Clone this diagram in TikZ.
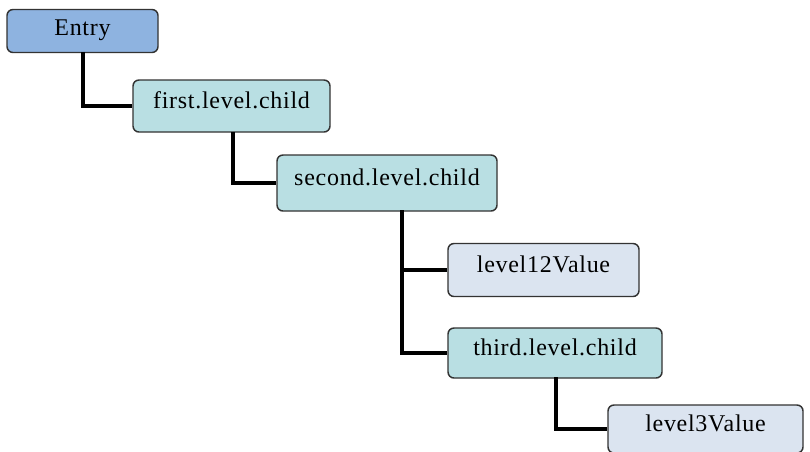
\documentclass[tikz,border=0pt]{standalone}
\usepackage{fontspec}
\setmainfont{Liberation Serif}[LetterSpace=3]
\begin{document}
\begin{tikzpicture}[x=0.75pt,y=-0.75pt,
  box/.style={draw=black!80,line width=1.1pt,rounded corners=4.5pt,inner sep=0pt,
    font=\fontsize{18}{20}\selectfont,text height=12pt,text depth=9pt},
  entrybox/.style={box,fill=entryblue,text depth=5pt},
  childbox/.style={box,fill=childteal},
  valuebox/.style={box,fill=valueblue},
  conn/.style={line width=3pt,black}]
\definecolor{entryblue}{HTML}{8EB3E0}
\definecolor{childteal}{HTML}{B9DFE3}
\definecolor{valueblue}{HTML}{DBE4F0}
\useasboundingbox (0,0) rectangle (810,451);
\clip (0,0) rectangle (810,451);
\fill[white] (0,0) rectangle (810,451);
% connectors first (under boxes)
\coordinate (c1) at (83,52);
\coordinate (c2) at (233,132);
\coordinate (c3) at (402,210);
\coordinate (c4) at (556,377);
\node[entrybox,minimum width=113.25pt,minimum height=32.25pt] (entry) at (82.5,31) {Entry};
\node[childbox,minimum width=147.75pt,minimum height=39pt] (first) at (231.5,106) {first.level.child};
\node[childbox,minimum width=165pt,minimum height=42pt] (second) at (387,183) {second.level.child};
\node[valuebox,minimum width=143.25pt,minimum height=39.75pt] (v12) at (543.5,270) {level12Value};
\node[childbox,minimum width=160.5pt,minimum height=37.5pt] (third) at (555,353) {third.level.child};
\node[valuebox,minimum width=146.25pt,minimum height=36pt] (v3) at (705.5,429) {level3Value};
\begin{scope}[on background layer/.try]
\end{scope}
\draw[conn] (c1) |- (first.west);
\draw[conn] (c2) |- (second.west);
\draw[conn] (c3) |- (v12.west);
\draw[conn] (c3) |- (third.west);
\draw[conn] (c4) |- (v3.west);
\end{tikzpicture}
\end{document}
